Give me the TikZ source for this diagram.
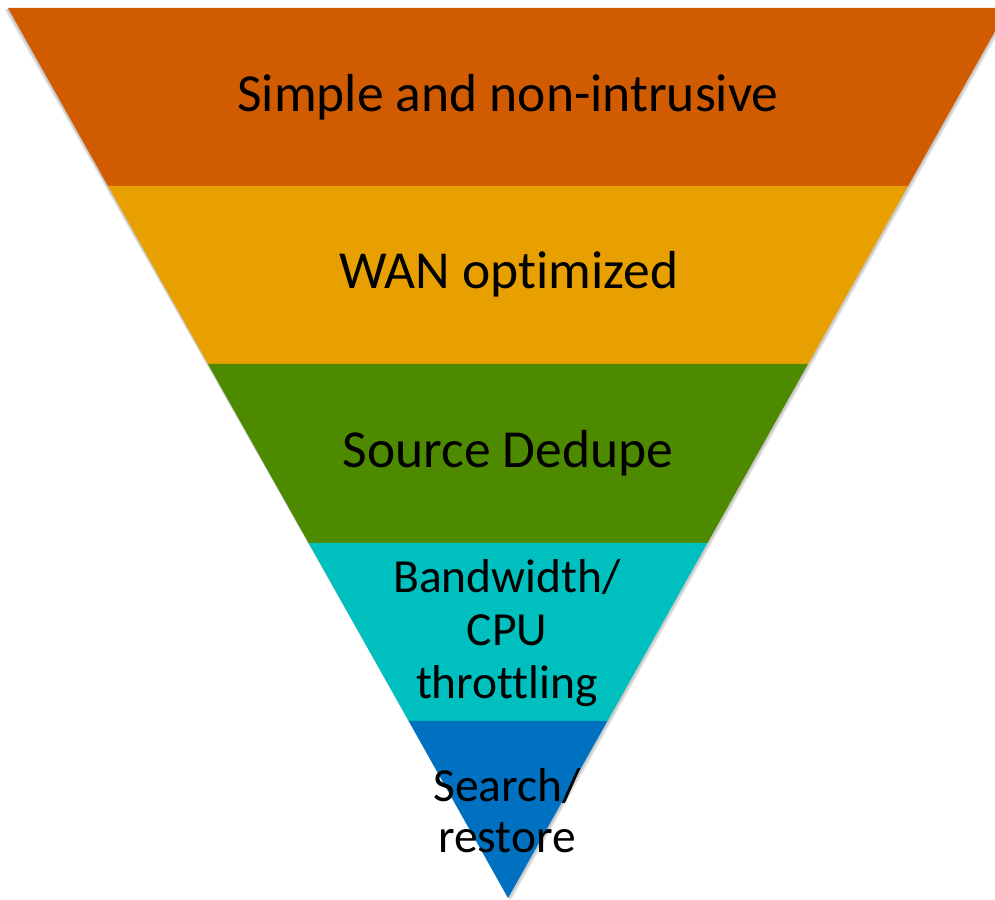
\documentclass[tikz,border=0pt]{standalone}
\usepackage{fontspec}
\setmainfont[Ligatures=NoCommon]{Carlito}
\definecolor{bandA}{HTML}{D15B00}
\definecolor{bandB}{HTML}{E8A000}
\definecolor{bandC}{HTML}{4E8A00}
\definecolor{bandD}{HTML}{00BFBF}
\definecolor{bandE}{HTML}{0070C0}
\tikzset{
  lbl/.style={font=\fontsize{53.5}{60}\selectfont, text=black, align=center, inner sep=0pt},
  lbls/.style={font=\fontsize{47.5}{53}\selectfont, text=black, align=center, inner sep=0pt}
}
\begin{document}
\begin{tikzpicture}[x=1pt,y=1pt]
\useasboundingbox (0,0) rectangle (995,899);
\clip (0,0) rectangle (995,899);
% soft shadow
\fill[black!12] (5,889) -- (1011,889) -- (511,-1) -- cycle;
\fill[black!22] (6.5,890) -- (1009.5,890) -- (509.5,0) -- cycle;
% bands
\fill[bandA] (8,891) -- (1008,891) -- (908,713) -- (108,713) -- cycle;
\fill[bandB] (108,713) -- (908,713) -- (808,535) -- (208,535) -- cycle;
\fill[bandC] (208,535) -- (808,535) -- (707.4,356) -- (308.6,356) -- cycle;
\fill[bandD] (308.6,356) -- (707.4,356) -- (607.4,178) -- (408.6,178) -- cycle;
\fill[bandE] (408.6,178) -- (607.4,178) -- (508,1) -- cycle;
% labels
\node[lbl] (t1) at (508,802) {Simple and non-intrusive};
\node[lbl] (t2) at (509,625) {WAN optimized};
\node[lbl] (t3) at (508,446) {Source Dedupe};
\node[lbls] (t4) at (507,266) {Bandwidth/\\CPU\\throttling};
\node[lbls,font=\fontsize{47.5}{51}\selectfont] (t5) at (507,88) {Search/\\restore};
\end{tikzpicture}
\end{document}
